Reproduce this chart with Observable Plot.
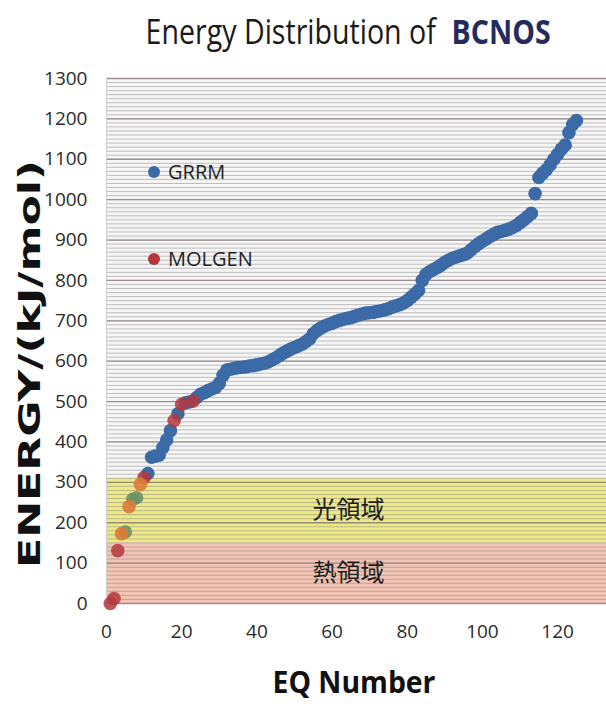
<!DOCTYPE html>
<html>
<head>
<meta charset="utf-8">
<script src="https://cdn.jsdelivr.net/npm/d3@7"></script>
<script src="https://cdn.jsdelivr.net/npm/@observablehq/plot@0.6"></script>
<style>
  html, body { margin: 0; padding: 0; background: #ffffff; }
  #wrap { position: relative; width: 606px; height: 704px; overflow: hidden; background: #fff; }
  #title { position: absolute; top: 8px; left: 0; width: 606px; padding-left: 90px; box-sizing: border-box;
           text-align: center; white-space: nowrap; }
  #title span.inner { display: inline-block; transform: scaleX(0.84); transform-origin: 50% 50%;
           font-family: "Open Sans", sans-serif; font-size: 34px; color: #1a1a1a; }
  #title b { color: #262b5e; margin-left: 10px; }
  .leg { position: absolute; font-family: "Open Sans", sans-serif; font-size: 20px; color: #222; display: flex; align-items: center; }
  .leg span.sw { display: inline-block; width: 12px; height: 12px; border-radius: 50%; margin-right: 8px; }
  #chart { position: absolute; left: 0; top: 0; }
</style>
</head>
<body>
<div id="wrap">
  <div id="chart"></div>
  <div id="title"><span class="inner">Energy Distribution of <b>BCNOS</b></span></div>
</div>
<script>
// ---- data ----
const energies = [
  0, 12, 131, 173, 177, 240, 258, 262, 295, 312,
  322, 362, 365, 367, 386, 405, 428, 453, 470, 493,
  497, 499, 501, 510, 518, 522, 527, 531, 535, 545,
  565, 578, 580, 582, 584, 585, 586, 588, 589, 591,
  593, 595, 598, 603, 608, 614, 620, 625, 630, 634,
  638, 642, 648, 655, 668, 676, 682, 687, 691, 694,
  698, 701, 704, 706, 708, 711, 714, 717, 719, 720,
  721, 723, 725, 727, 730, 734, 737, 740, 744, 750,
  758, 766, 775, 800, 815, 822, 827, 832, 838, 845,
  850, 855, 858, 861, 864, 868, 876, 884, 891, 897,
  903, 909, 914, 919, 921, 924, 927, 931, 936, 943,
  950, 958, 966, 1015, 1055, 1065, 1074, 1086, 1100, 1112,
  1125, 1135, 1166, 1186, 1196
];
const molgenEq = [1, 2, 3, 10, 18, 20, 23];
const otherEqA = [4, 6, 9];      // unlabeled series (orange)
const otherEqB = [5, 7, 8];      // unlabeled series (green)
const seriesNames = ["GRRM", "MOLGEN"];
const seriesColors = ["#3b6aa7", "#b3383c"];
const otherColors = ["#de7a36", "#6c9468"];

const bandLabels = ["熱領域", "光領域"];
const bandLow = [0, 150];
const bandHigh = [150, 310];
const bandColors = ["#f3c3b3", "#ede983"];

const xTicks = [0, 20, 40, 60, 80, 100, 120];
const yTicks = [0, 100, 200, 300, 400, 500, 600, 700, 800, 900, 1000, 1100, 1200, 1300];
const yMinorStep = 10;

// ---- build tables ----
const eqs = energies.map((e, i) => ({eq: i + 1, energy: e}));
const inList = (list) => (d) => list.includes(d.eq);
const molgen = eqs.filter(inList(molgenEq));
const otherA = eqs.filter(inList(otherEqA));
const otherB = eqs.filter(inList(otherEqB));
const grrm = eqs.filter(d => !molgenEq.includes(d.eq) && !otherEqA.includes(d.eq) && !otherEqB.includes(d.eq));
const bands = bandLabels.map((t, i) => ({label: t, y1: bandLow[i], y2: bandHigh[i], color: bandColors[i]}));
const minor = d3.range(yTicks[0], yTicks[yTicks.length - 1] + 1, yMinorStep);

const plot = Plot.plot({
  width: 606,
  height: 704,
  marginTop: 78,
  marginBottom: 101,
  marginLeft: 106,
  marginRight: 0,
  style: {fontFamily: "'Open Sans', sans-serif", fontSize: "19px", color: "#2b2b2b", background: "transparent", overflow: "visible"},
  x: {domain: [0, 133], ticks: xTicks, tickFormat: "d", tickSize: 0, tickPadding: 21, label: null},
  y: {domain: [0, 1300], ticks: yTicks, tickFormat: "d", tickSize: 0, tickPadding: 19, label: null},
  marks: [
    Plot.frame({fill: "#f6f6f6", stroke: null}),
    Plot.rect(bands, {y1: "y1", y2: "y2", fill: "color"}),
    Plot.ruleY(minor, {stroke: "#8f8f8f", strokeOpacity: 0.55, strokeWidth: 1}),
    Plot.ruleY(yTicks, {stroke: "#8c7f7f", strokeOpacity: 0.8, strokeWidth: 1.3}),
    Plot.ruleX([0], {stroke: "#cfcfcf"}),
    Plot.text(bands, {y: d => (d.y1 + d.y2) / 2, text: "label", frameAnchor: "middle", dx: -8,
      fontSize: 24, fill: "#1e1e1e", fontFamily: "'Noto Sans CJK JP', sans-serif"}),
    Plot.dot(grrm, {x: "eq", y: "energy", r: 6.8, fill: seriesColors[0], stroke: null}),
    Plot.dot(otherB, {x: "eq", y: "energy", r: 6.8, fill: otherColors[1], fillOpacity: 0.92}),
    Plot.dot(molgen, {x: "eq", y: "energy", r: 6.8, fill: seriesColors[1], fillOpacity: 0.85}),
    Plot.dot(otherA, {x: "eq", y: "energy", r: 6.8, fill: otherColors[0], fillOpacity: 0.9})
  ]
});
document.getElementById("chart").appendChild(plot);

// axis titles
const svg = d3.select(plot);
svg.append("text")
  .attr("transform", "translate(40,364) rotate(-90)")
  .attr("text-anchor", "middle")
  .attr("font-family", "'DejaVu Sans', Verdana, sans-serif")
  .attr("font-weight", "bold")
  .attr("font-size", 30)
  .attr("textLength", 408)
  .attr("lengthAdjust", "spacingAndGlyphs")
  .attr("fill", "#111")
  .text("ENERGY/(kJ/mol)");
svg.append("text")
  .attr("x", 354).attr("y", 693)
  .attr("text-anchor", "middle")
  .attr("font-family", "'Open Sans', sans-serif")
  .attr("font-weight", "bold")
  .attr("font-size", 30)
  .attr("textLength", 163)
  .attr("lengthAdjust", "spacingAndGlyphs")
  .attr("fill", "#111")
  .text("EQ Number");

// legend (HTML)
const wrap = document.getElementById("wrap");
const legendTops = [158, 245];
seriesNames.forEach((n, i) => {
  const el = document.createElement("div");
  el.className = "leg";
  el.style.left = "148px";
  el.style.top = legendTops[i] + "px";
  el.innerHTML = `<span class="sw" style="background:${seriesColors[i]}"></span>${n}`;
  wrap.appendChild(el);
});
</script>
</body>
</html>
